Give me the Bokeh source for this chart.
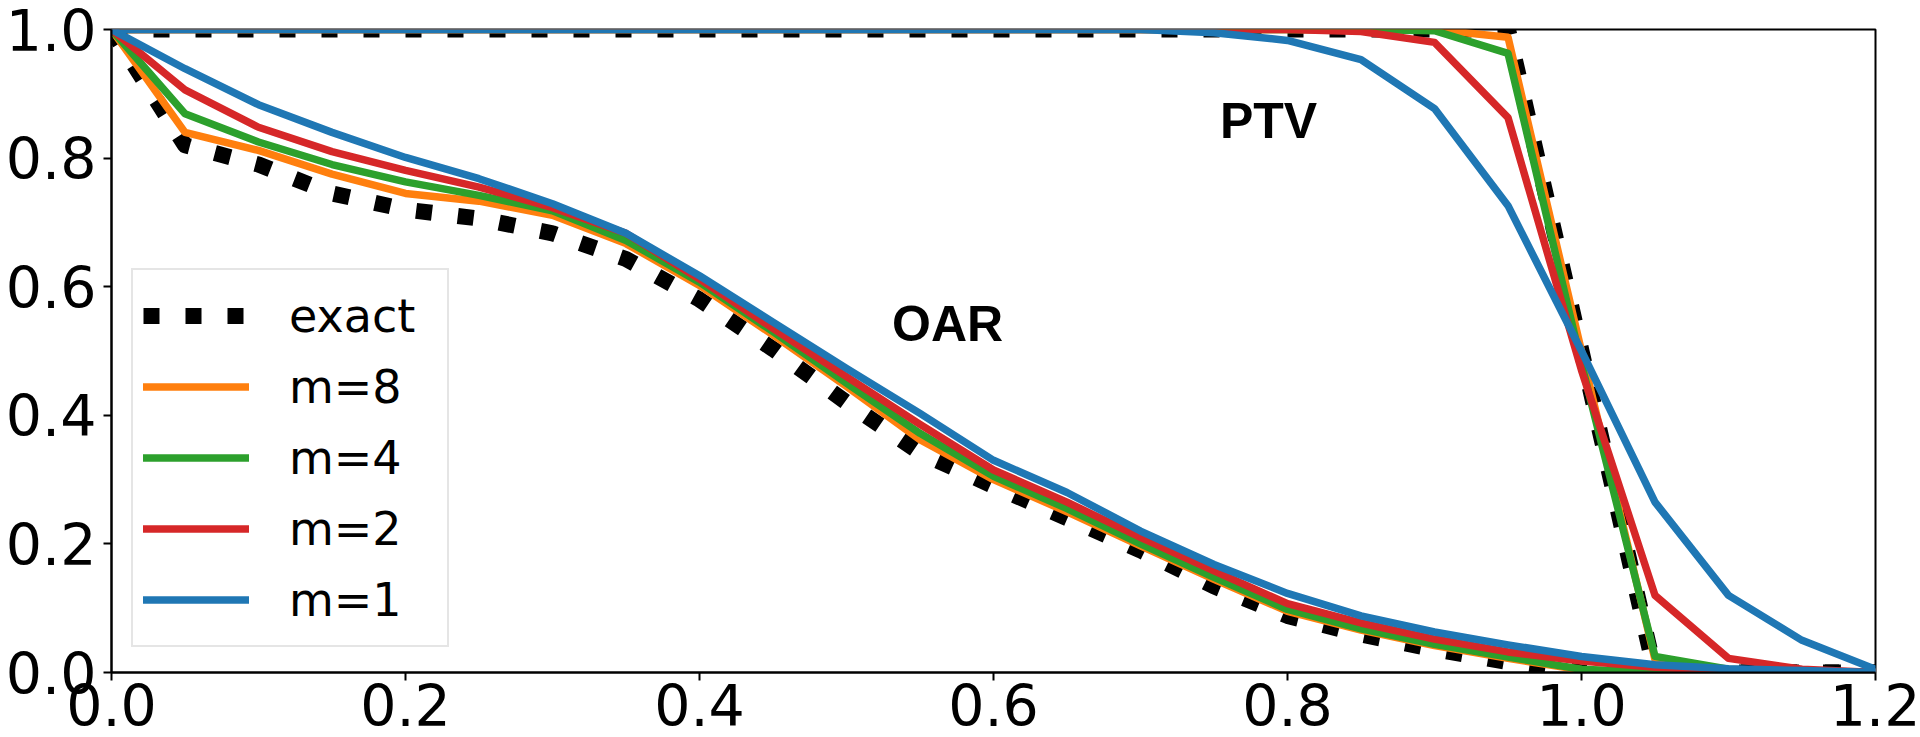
from bokeh.plotting import figure
from bokeh.models import Range1d, Legend, LegendItem, FixedTicker, PrintfTickFormatter
from bokeh.embed import file_html
from bokeh.resources import INLINE
from bokeh.core.properties import value

# dose axis
x = [0.00, 0.05, 0.10, 0.15, 0.20, 0.25, 0.30, 0.35, 0.40, 0.45, 0.50, 0.55,
     0.60, 0.65, 0.70, 0.75, 0.80, 0.85, 0.90, 0.95, 1.00, 1.05, 1.10, 1.15, 1.20]

# OAR curves
oar_exact = [1.0, 0.82, 0.79, 0.745, 0.72, 0.706, 0.683, 0.643, 0.58, 0.503, 0.42, 0.342,
             0.29, 0.24, 0.19, 0.134, 0.088, 0.059, 0.036, 0.016, 0.0, 0.0, 0.0, 0.0, 0.0]
oar_m8 = [1.0, 0.84, 0.812, 0.775, 0.745, 0.733, 0.711, 0.667, 0.602, 0.525, 0.445, 0.362,
          0.30, 0.25, 0.197, 0.145, 0.095, 0.066, 0.042, 0.022, 0.004, 0.0, 0.0, 0.0, 0.0]
oar_m4 = [1.0, 0.869, 0.825, 0.79, 0.763, 0.742, 0.718, 0.672, 0.607, 0.53, 0.45, 0.372,
          0.305, 0.255, 0.20, 0.148, 0.098, 0.068, 0.044, 0.024, 0.005, 0.0, 0.0, 0.0, 0.0]
oar_m2 = [1.0, 0.906, 0.848, 0.81, 0.781, 0.755, 0.723, 0.683, 0.612, 0.535, 0.46, 0.386,
          0.315, 0.265, 0.21, 0.158, 0.107, 0.077, 0.052, 0.032, 0.018, 0.008, 0.003, 0.0, 0.0]
oar_m1 = [1.0, 0.939, 0.883, 0.84, 0.801, 0.768, 0.729, 0.683, 0.617, 0.545, 0.473, 0.403,
          0.33, 0.28, 0.22, 0.168, 0.123, 0.088, 0.063, 0.043, 0.025, 0.012, 0.006, 0.003, 0.0]

# PTV curves
ptv_exact = [1.0] * 20 + [0.5, 0.0, 0.0, 0.0, 0.0]
ptv_m8 = [1.0] * 19 + [0.988, 0.5, 0.02, 0.0, 0.0, 0.0]
ptv_m4 = [1.0] * 18 + [0.998, 0.963, 0.48, 0.025, 0.005, 0.0, 0.0]
ptv_m2 = [1.0] * 17 + [0.997, 0.98, 0.863, 0.47, 0.12, 0.022, 0.005, 0.0]
ptv_m1 = [1.0] * 15 + [0.995, 0.983, 0.953, 0.877, 0.726, 0.5, 0.265, 0.12, 0.05, 0.005]

labels = ["exact", "m=8", "m=4", "m=2", "m=1"]
colors = ["black", "#ff7f0e", "#2ca02c", "#d62728", "#1f77b4"]

note_text = ["OAR", "PTV"]
note_x = [0.531, 0.754]
note_y = [0.542, 0.857]

x_ticks = [0.0, 0.2, 0.4, 0.6, 0.8, 1.0, 1.2]
y_ticks = [0.0, 0.2, 0.4, 0.6, 0.8, 1.0]

p = figure(width=1920, height=737, output_backend="svg", toolbar_location=None,
           x_range=Range1d(0, 1.2), y_range=Range1d(0, 1.0),
           min_border_left=111, min_border_right=45, min_border_top=29,
           min_border_bottom=65)
p.grid.visible = False
p.background_fill_color = "white"
p.border_fill_color = "white"
p.outline_line_color = "black"
p.outline_line_width = 2

for ax in (p.xaxis[0], p.yaxis[0]):
    ax.axis_line_color = "black"
    ax.axis_line_width = 2
    ax.major_tick_line_color = "black"
    ax.major_tick_line_width = 2
    ax.major_tick_out = 8
    ax.major_tick_in = 0
    ax.minor_tick_line_color = None
    ax.major_label_text_font = "DejaVu Sans"
    ax.major_label_text_font_size = "57px"
    ax.major_label_text_color = "black"
    ax.formatter = PrintfTickFormatter(format="%.1f")

p.xaxis.ticker = FixedTicker(ticks=x_ticks)
p.yaxis.ticker = FixedTicker(ticks=y_ticks)
p.xaxis.major_label_standoff = 3
p.yaxis.major_label_standoff = 7

series = [(oar_exact, ptv_exact), (oar_m8, ptv_m8), (oar_m4, ptv_m4),
          (oar_m2, ptv_m2), (oar_m1, ptv_m1)]
items = []
for i, ((oar, ptv), lab, col) in enumerate(zip(series, labels, colors)):
    if i == 0:
        kw = dict(line_width=16, line_dash="16 26", line_cap="butt", line_join="round")
    else:
        kw = dict(line_width=7.5, line_cap="round", line_join="round")
    r1 = p.line(x, oar, line_color=col, **kw)
    r2 = p.line(x, ptv, line_color=col, **kw)
    items.append(LegendItem(label=lab, renderers=[r1]))

p.text(x=note_x, y=note_y, text=note_text, text_font=value("Liberation Sans"),
       text_font_style="bold", text_font_size="50px", text_color="black",
       text_align="left", text_baseline="alphabetic")

legend = Legend(items=items, location=(20, 25), margin=0, padding=10, spacing=0,
                glyph_width=106, glyph_height=71, label_height=71, label_width=148,
                label_standoff=40, label_text_font="DejaVu Sans",
                label_text_font_size="46px", label_text_color="black",
                border_line_color="#cccccc", border_line_width=2,
                background_fill_color="white", background_fill_alpha=0.8)
p.add_layout(legend)

open("out.html", "w").write(file_html(p, INLINE))
